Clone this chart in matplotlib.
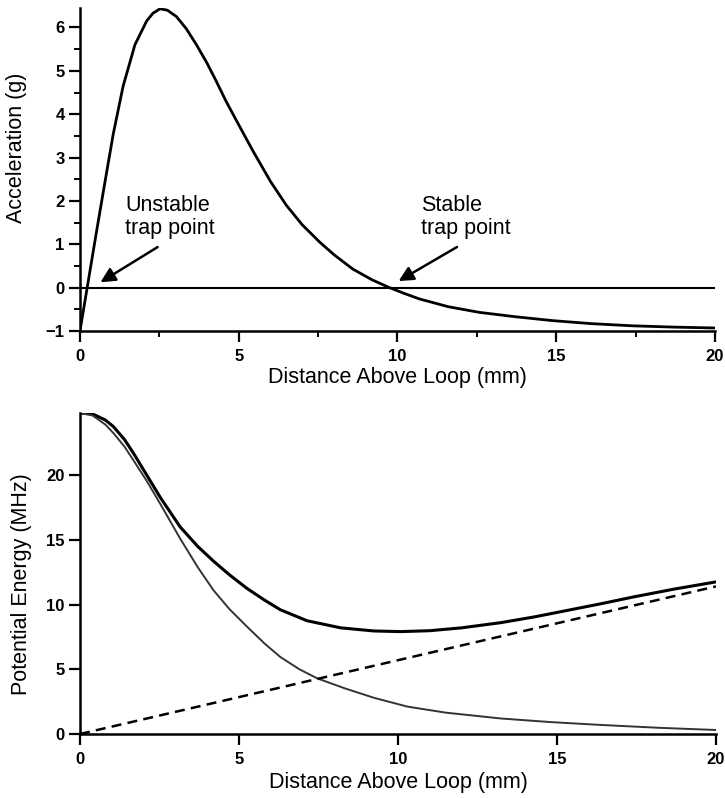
import matplotlib
matplotlib.use('Agg')
import matplotlib.pyplot as plt
from matplotlib.ticker import MultipleLocator

plt.rcParams['font.family'] = ['Liberation Sans', 'DejaVu Sans']

# Top panel: acceleration vs height
acc_x = [0, 0.25, 0.5, 0.79, 1.05, 1.36, 1.73, 2.1, 2.3, 2.52, 2.75, 3.04, 3.35,
         3.67, 4.0, 4.3, 4.6, 4.93, 5.45, 6.0, 6.5, 7.0, 7.55, 8.0, 8.59, 9.2,
         9.75, 10.2, 10.69, 11.6, 12.58, 13.7, 14.88, 16.1, 17.4, 18.7, 20]
acc_y = [-1.0, 0.1, 1.2, 2.45, 3.55, 4.65, 5.6, 6.15, 6.33, 6.43, 6.4, 6.25, 5.97,
         5.6, 5.18, 4.75, 4.3, 3.85, 3.15, 2.45, 1.9, 1.45, 1.05, 0.76, 0.43, 0.18,
         0.0, -0.13, -0.26, -0.44, -0.57, -0.67, -0.76, -0.83, -0.88, -0.91, -0.93]

# Bottom panel: potential energy (total, magnetic, gravitational)
tot_x = [0, 0.4, 0.8, 1.05, 1.4, 1.68, 2.1, 2.52, 3.15, 3.7, 4.2, 4.7, 5.25, 5.8,
         6.3, 7.14, 8.2, 9.24, 10.08, 11.0, 12.0, 13.23, 14.3, 15.33, 16.4, 17.43,
         18.7, 20]
tot_y = [24.8, 24.72, 24.25, 23.75, 22.75, 21.7, 20.0, 18.3, 16.0, 14.5, 13.35,
         12.3, 11.25, 10.35, 9.6, 8.75, 8.2, 7.96, 7.91, 7.98, 8.2, 8.6, 9.05, 9.55,
         10.07, 10.6, 11.2, 11.75]
mag_x = [0, 0.4, 0.8, 1.05, 1.4, 1.68, 2.1, 2.52, 3.15, 3.7, 4.2, 4.7, 5.25, 5.8,
         6.3, 6.9, 7.46, 8.3, 9.24, 10.29, 11.5, 13.23, 14.8, 16.38, 18.2, 20]
mag_y = [24.8, 24.6, 23.9, 23.25, 22.2, 21.15, 19.55, 17.8, 15.1, 12.9, 11.1, 9.65,
         8.3, 7.0, 5.95, 5.0, 4.3, 3.55, 2.8, 2.12, 1.65, 1.2, 0.92, 0.7, 0.48, 0.31]
grav_x = [0, 20]
grav_y = [0, 11.4]

fig = plt.figure(figsize=(7.25, 7.98), dpi=100)
ax1 = fig.add_axes([0.1103, 0.5852, 0.8759, 0.4048])
ax2 = fig.add_axes([0.1103, 0.0802, 0.8772, 0.4023])

for ax in (ax1, ax2):
    for s in ('top', 'right'):
        ax.spines[s].set_visible(False)
    for s in ('left', 'bottom'):
        ax.spines[s].set_linewidth(1.8)
    ax.tick_params(which='major', length=8, width=1.6, labelsize=12, pad=5)
    ax.tick_params(which='minor', length=4.5, width=1.4)
    ax.tick_params(axis='y', pad=3)
    ax.set_xlim(0, 20)
    ax.xaxis.set_major_locator(MultipleLocator(5))

# top
ax1.plot(acc_x, acc_y, color='black', lw=2.0)
ax1.axhline(0, color='black', lw=1.5)
ax1.set_ylim(-1, 6.45)
ax1.yaxis.set_major_locator(MultipleLocator(1))
ax1.yaxis.set_minor_locator(MultipleLocator(0.5))
ax1.xaxis.set_minor_locator(MultipleLocator(2.5))
ax1.set_xlabel('Distance Above Loop (mm)', fontsize=15.5)
ax1.set_ylabel('Acceleration (g)', fontsize=15.5)
ax1.xaxis.set_label_coords(0.5, -0.11)
ax1.yaxis.set_label_coords(-0.083, 0.567)

ax1.annotate('Unstable\ntrap point', xy=(0.57, 0.09), xytext=(1.42, 1.13),
             fontsize=15.5, ha='left', va='bottom', linespacing=1.1)
ax1.annotate('', xy=(0.57, 0.09), xytext=(2.52, 0.97),
             arrowprops=dict(arrowstyle='-|>', color='black', lw=1.8, mutation_scale=22))
ax1.annotate('Stable\ntrap point', xy=(9.96, 0.12), xytext=(10.74, 1.13),
             fontsize=15.5, ha='left', va='bottom', linespacing=1.1)
ax1.annotate('', xy=(9.96, 0.12), xytext=(11.95, 0.97),
             arrowprops=dict(arrowstyle='-|>', color='black', lw=1.8, mutation_scale=22))

# bottom
ax2.plot(tot_x, tot_y, color='black', lw=2.2)
ax2.plot(mag_x, mag_y, color='0.2', lw=1.4)
ax2.plot(grav_x, grav_y, color='black', lw=1.8, dashes=(4, 2.5))
ax2.set_ylim(0, 24.8)
ax2.yaxis.set_major_locator(MultipleLocator(5))
ax2.set_xlabel('Distance Above Loop (mm)', fontsize=15.5)
ax2.set_ylabel('Potential Energy (MHz)', fontsize=15.5)
ax2.xaxis.set_label_coords(0.5, -0.118)
ax2.yaxis.set_label_coords(-0.075, 0.467)

for ax in (ax1, ax2):
    for lab in ax.get_xticklabels() + ax.get_yticklabels():
        lab.set_fontweight('bold')

fig.savefig('out.png', dpi=100)
